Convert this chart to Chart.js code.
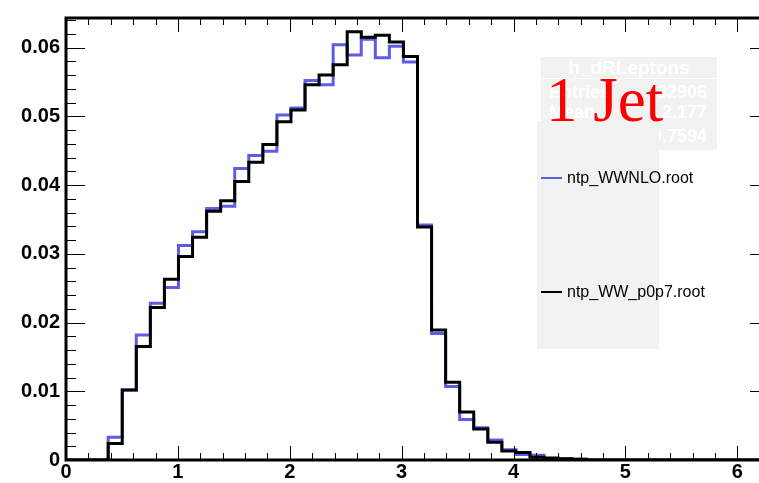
<!DOCTYPE html>
<html>
<head>
<meta charset="utf-8">
<script src="https://cdn.jsdelivr.net/npm/chart.js@4.4.1/dist/chart.umd.min.js"></script>
<style>
  body { margin: 0; background: #fff; overflow: hidden; width: 759px; height: 483px; }
  #wrap { position: relative; width: 780px; height: 483px; }
  .box { position: absolute; background: #f2f2f2; }
  .stat { position: absolute; color: #fff; font-family: "Liberation Sans", Arial, sans-serif; font-weight: bold; font-size: 18px; line-height: 20px; white-space: nowrap; }
  .leg { position: absolute; font-family: "Liberation Sans", Arial, sans-serif; font-size: 16px; line-height: 18px; color: #000; white-space: nowrap; }
  .legline { position: absolute; height: 2px; width: 21px; }
  #jet { position: absolute; left: 546px; top: 69px; font-family: "Liberation Serif", "Times New Roman", serif; font-size: 63px; line-height: 63px; color: #ff0000; white-space: nowrap; }
</style>
</head>
<body>
<div id="wrap">
  <canvas id="histChart" width="780" height="483"></canvas>

  <!-- stats box -->
  <div class="box" style="left:541px; top:57px; width:176px; height:93px;"></div>
  <div style="position:absolute; left:541px; top:78px; width:176px; height:1px; background:#fff;"></div>
  <div class="stat" style="left:541px; width:176px; top:58px; text-align:center; font-size:19px;">h_dRLeptons</div>
  <div class="stat" style="left:549px; top:82px;">Entries</div>
  <div class="stat" style="left:600px; width:107px; top:82px; text-align:right;">32906</div>
  <div class="stat" style="left:549px; top:102px;">Mean</div>
  <div class="stat" style="left:600px; width:107px; top:102px; text-align:right;">2.177</div>
  <div class="stat" style="left:549px; top:126px;">RMS</div>
  <div class="stat" style="left:600px; width:107px; top:126px; text-align:right;">0.7594</div>

  <!-- legend -->
  <div class="box" style="left:537px; top:121px; width:122px; height:228px;"></div>
  <div class="legline" style="left:541px; top:177px; background:#5c5ce6;"></div>
  <div class="leg" style="left:567px; top:169px;">ntp_WWNLO.root</div>
  <div class="legline" style="left:541px; top:291px; background:#000;"></div>
  <div class="leg" style="left:567px; top:283px;">ntp_WW_p0p7.root</div>

  <div id="jet">1 Jet</div>
</div>

<script>
// histogram h_dRLeptons, 50 bins over [0, 2pi]
const nBins = 50;
const xMin = 0;
const xMax = 2 * Math.PI;
const yMax = 0.0643;

const seriesNames = ["ntp_WWNLO.root", "ntp_WW_p0p7.root"];

const wwnloValues = [
  0, 0, 0, 0.0033, 0.0102, 0.0182, 0.0228, 0.0251, 0.0312, 0.0332,
  0.0366, 0.0369, 0.0424, 0.0443, 0.0449, 0.0502, 0.0512, 0.0552, 0.0546, 0.0604,
  0.0589, 0.0612, 0.0585, 0.0602, 0.0579, 0.0342, 0.0184, 0.0107, 0.0059, 0.0047,
  0.0029, 0.0015, 0.0008, 0.0007, 0.0002, 0.0002, 0.0001, 0, 0, 0,
  0, 0, 0, 0, 0, 0, 0, 0, 0, 0
];

const wwP0p7Values = [
  0, 0, 0, 0.0024, 0.0102, 0.0165, 0.0222, 0.0263, 0.0296, 0.0324,
  0.0362, 0.0377, 0.0405, 0.0433, 0.0459, 0.0492, 0.0509, 0.0546, 0.0560, 0.0575,
  0.0623, 0.0615, 0.0618, 0.0608, 0.0587, 0.0339, 0.0189, 0.0113, 0.0070, 0.0045,
  0.0026, 0.0013, 0.0011, 0.0004, 0.0003, 0.0002, 0.0001, 0, 0, 0,
  0, 0, 0, 0, 0, 0, 0, 0, 0, 0
];

const xTickLabels = [0, 1, 2, 3, 4, 5, 6];
const yTickLabels = [0, 0.01, 0.02, 0.03, 0.04, 0.05, 0.06];

const binWidth = (xMax - xMin) / nBins;

// one point per bin (its left edge) and the closing right edge,
// drawn with a horizontal-then-vertical step
function toSteps(values) {
  const pts = [{ x: xMin, y: 0 }];
  values.forEach((v, i) => {
    pts.push({ x: xMin + (i + 1) * binWidth, y: v });
  });
  return pts;
}

// ROOT-style frame with inward ticks on all four sides
const rootFrame = {
  id: "rootFrame",
  afterDraw(chart) {
    const { ctx, chartArea: a, scales: { x, y } } = chart;
    ctx.save();
    ctx.strokeStyle = "#000";
    ctx.lineWidth = 1;
    ctx.beginPath();
    for (let v = 0; v <= xMax + 1e-9; v += 0.2) {
      const px = Math.round(x.getPixelForValue(v)) + 0.5;
      const major = Math.abs(v - Math.round(v)) < 1e-6;
      const len = major ? 14 : 7;
      ctx.moveTo(px, a.bottom); ctx.lineTo(px, a.bottom - len);
      ctx.moveTo(px, a.top); ctx.lineTo(px, a.top + len);
    }
    for (let v = 0; v <= yMax + 1e-9; v += 0.002) {
      const py = Math.round(y.getPixelForValue(v)) + 0.5;
      const major = Math.abs(v / 0.01 - Math.round(v / 0.01)) < 1e-6;
      const len = major ? 19 : 10;
      ctx.moveTo(a.left, py); ctx.lineTo(a.left + len, py);
      ctx.moveTo(a.right, py); ctx.lineTo(a.right - len, py);
    }
    ctx.stroke();
    ctx.lineWidth = 3;
    ctx.strokeRect(a.left, a.top, a.right - a.left, a.bottom - a.top);
    ctx.restore();
  }
};

const tickFont = { family: "'Liberation Sans', Arial, sans-serif", size: 20, weight: "bold" };

new Chart(document.getElementById("histChart"), {
  type: "line",
  data: {
    datasets: [
      {
        label: seriesNames[0],
        data: toSteps(wwnloValues),
        borderColor: "#5c5ce6",
        borderWidth: 3,
        stepped: "after",
        pointRadius: 0,
        fill: false,
        order: 2
      },
      {
        label: seriesNames[1],
        data: toSteps(wwP0p7Values),
        borderColor: "#000000",
        borderWidth: 3,
        stepped: "after",
        pointRadius: 0,
        fill: false,
        order: 1
      }
    ]
  },
  options: {
    responsive: false,
    animation: false,
    layout: { padding: { top: 14, right: 11, left: 0, bottom: 0 } },
    plugins: { legend: { display: false }, tooltip: { enabled: false } },
    scales: {
      x: {
        type: "linear",
        min: xMin,
        max: xMax,
        grid: { display: false, drawTicks: false },
        border: { display: false },
        ticks: { stepSize: 1, font: tickFont, color: "#000", padding: 0, maxRotation: 0, autoSkip: false,
                 callback: v => String(v) },
        afterBuildTicks: s => { s.ticks = xTickLabels.map(v => ({ value: v })); },
        afterFit: s => { s.height = 23; }
      },
      y: {
        min: 0,
        max: yMax,
        grid: { display: false, drawTicks: false },
        border: { display: false },
        ticks: { font: tickFont, color: "#000", padding: 6,
                 callback: v => (v === 0 ? "0" : v.toFixed(2)) },
        afterBuildTicks: s => { s.ticks = yTickLabels.map(v => ({ value: v })); },
        afterFit: s => { s.width = 66; }
      }
    }
  },
  plugins: [rootFrame]
});
</script>
</body>
</html>
